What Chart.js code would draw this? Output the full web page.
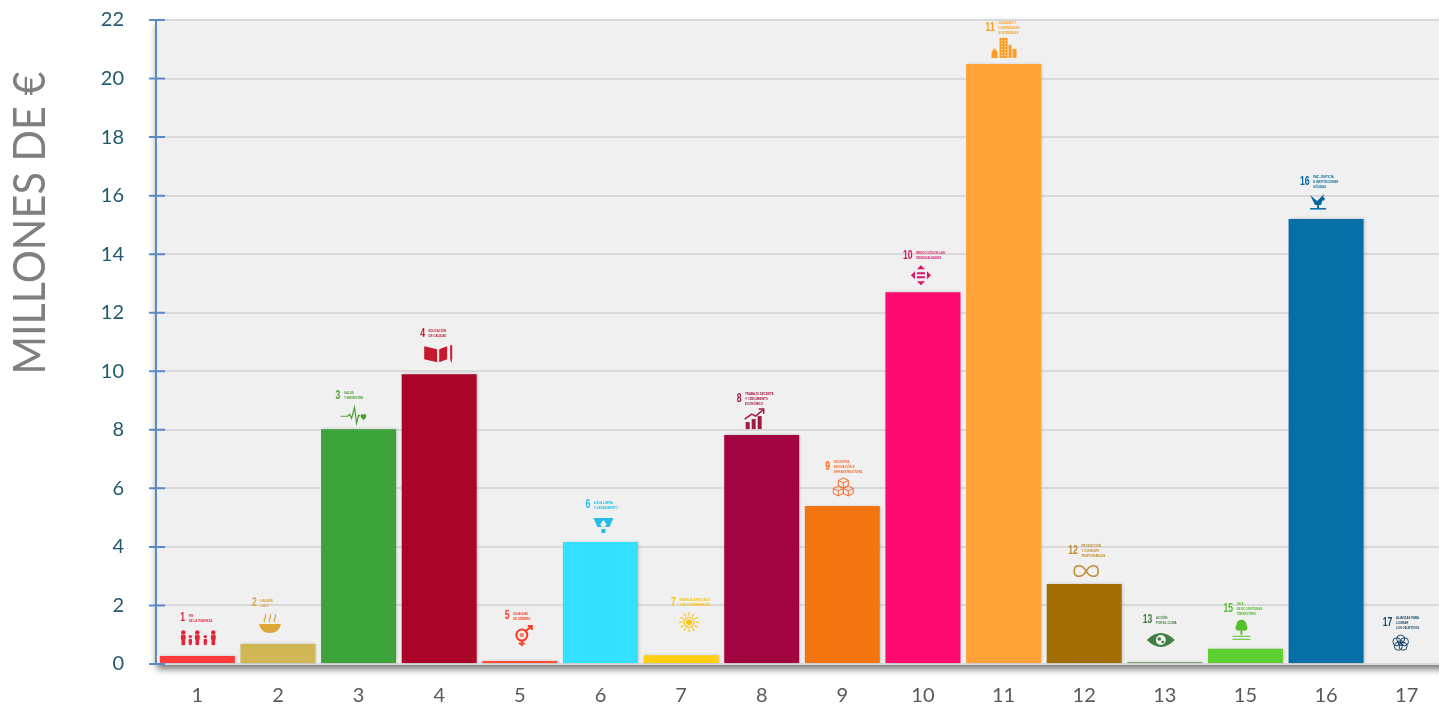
<!DOCTYPE html>
<html>
<head>
<meta charset="utf-8">
<title>Millones de euros por ODS</title>
<script src="https://cdn.jsdelivr.net/npm/chart.js@4"></script>
<style>
  html, body { margin: 0; padding: 0; background: #fff; overflow: hidden; }
  /* the plot runs a little past the right edge of the window, as in the original crop */
  #wrap { width: 1447px; height: 705px; position: relative; }
</style>
</head>
<body>
<div id="wrap"><canvas id="chart"></canvas></div>
<script>
var categories = ['1', '2', '3', '4', '5', '6', '7', '8', '9', '10', '11', '12', '13', '15', '16', '17'];
var values = [0.27, 0.68, 8.02, 9.9, 0.1, 4.17, 0.3, 7.82, 5.4, 12.7, 20.5, 2.73, 0.07, 0.52, 15.2, 0];
var barColors = ['#ff3a3a', '#d1b655', '#3ba33a', '#aa0428', '#ff4d33', '#33e0ff', '#ffcf10', '#a2043f',
                 '#f4740f', '#ff0a6e', '#ffa339', '#a26d04', '#7fa07f', '#5ecf30', '#0570a8', '#14466e'];
var iconColors = ['#e5243b', '#dda63a', '#4c9f38', '#c5192d', '#ff3a21', '#26bde2', '#fcc30b', '#a21942',
                  '#fd6925', '#dd1367', '#fd9d24', '#bf8b2e', '#3f7e44', '#56c02b', '#00689d', '#19486a'];
var captions = [
  ['FIN', 'DE LA POBREZA'], ['HAMBRE', 'CERO'], ['SALUD', 'Y BIENESTAR'], ['EDUCACIÓN', 'DE CALIDAD'],
  ['IGUALDAD', 'DE GÉNERO'], ['AGUA LIMPIA', 'Y SANEAMIENTO'], ['ENERGÍA ASEQUIBLE', 'Y NO CONTAMINANTE'],
  ['TRABAJO DECENTE', 'Y CRECIMIENTO', 'ECONÓMICO'], ['INDUSTRIA,', 'INNOVACIÓN E', 'INFRAESTRUCTURA'],
  ['REDUCCIÓN DE LAS', 'DESIGUALDADES'], ['CIUDADES Y', 'COMUNIDADES', 'SOSTENIBLES'],
  ['PRODUCCIÓN', 'Y CONSUMO', 'RESPONSABLES'], ['ACCIÓN', 'POR EL CLIMA'],
  ['VIDA', 'DE ECOSISTEMAS', 'TERRESTRES'], ['PAZ, JUSTICIA', 'E INSTITUCIONES', 'SÓLIDAS'],
  ['ALIANZAS PARA', 'LOGRAR', 'LOS OBJETIVOS']
];
var iconNumbers = ['1', '2', '3', '4', '5', '6', '7', '8', '9', '10', '11', '12', '13', '15', '16', '17'];
var axisTitle = 'MILLONES DE €';

// where each logo sits relative to the top of its bar (pixels)
var logoShiftX = [1, -8, -5, -1, 3, 3, 8, -7, 1, -2, 0, 2, -4, -4, -8, -6];
var logoLift = [18, 21, 14, 21, 25, 17, 33, 16, 19, 17, 16, 13, 22, 20, 17, 21];

function line(c, pts) {
  c.beginPath();
  pts.forEach(function(p, i) { i ? c.lineTo(p[0], p[1]) : c.moveTo(p[0], p[1]); });
  c.stroke();
}
function dot(c, x, y, r) { c.beginPath(); c.arc(x, y, r, 0, Math.PI * 2); c.fill(); }
function ring(c, x, y, r) { c.beginPath(); c.arc(x, y, r, 0, Math.PI * 2); c.stroke(); }

var logos = [
  function(c) { // people
    [[-15, 1], [-8, .7], [-1, 1], [7, .7], [15, 1]].forEach(function(p) {
      var s = p[1], top = s < 1 ? 1 : -3;
      dot(c, p[0], top - 2.5, 2 * s + .3);
      c.fillRect(p[0] - 2.4 * s, top, 4.8 * s, 4.5);
      c.fillRect(p[0] - 1.8 * s, top + 4, 3.6 * s, 7 - top - 4);
    });
  },
  function(c) { // bowl
    c.beginPath(); c.moveTo(-11, 1); c.lineTo(11, 1); c.quadraticCurveTo(9, 10, 0, 10); c.quadraticCurveTo(-9, 10, -11, 1); c.fill();
    c.lineWidth = 1.1;
    [-5, 0, 5].forEach(function(x) {
      c.beginPath(); c.moveTo(x, -1); c.bezierCurveTo(x - 3, -4, x + 3, -6, x, -9); c.stroke();
    });
  },
  function(c) { // pulse and heart
    c.lineWidth = 1.2;
    line(c, [[-13, 1], [-6, 1], [-4, -1], [-2, 3], [1, -8], [3, 8], [5, 0], [7, 1]]);
    c.beginPath(); c.moveTo(10, 5); c.bezierCurveTo(5, 1, 8, -3, 10, -.5); c.bezierCurveTo(12, -3, 15, 1, 10, 5); c.fill();
  },
  function(c) { // book
    c.beginPath(); c.moveTo(-14, -7); c.lineTo(-1, -4); c.lineTo(-1, 9); c.lineTo(-14, 6); c.closePath(); c.fill();
    c.beginPath(); c.moveTo(9, -7); c.lineTo(1, -4); c.lineTo(1, 9); c.lineTo(9, 6); c.closePath(); c.fill();
    c.fillRect(12, -8, 2, 14);
    c.beginPath(); c.moveTo(12, 6); c.lineTo(14, 6); c.lineTo(13, 10); c.fill();
  },
  function(c) { // gender symbol
    c.lineWidth = 2;
    ring(c, -1, -1, 5.5);
    line(c, [[-1, 4], [-1, 10]]);
    line(c, [[-4, 7.5], [2, 7.5]]);
    line(c, [[3, -5], [9, -10]]);
    line(c, [[5, -10], [9, -10], [9, -6]]);
    c.lineWidth = 1.2;
    line(c, [[-3, -2], [1, -2]]);
    line(c, [[-3, 0], [1, 0]]);
  },
  function(c) { // glass and drop
    c.beginPath(); c.moveTo(-10, -7); c.lineTo(10, -7); c.lineTo(6, 2); c.lineTo(-6, 2); c.closePath(); c.fill();
    c.beginPath(); c.moveTo(-2, 4); c.lineTo(2, 4); c.lineTo(2, 8); c.lineTo(-2, 8); c.fill();
    c.fillStyle = '#f0f0f0';
    c.beginPath(); c.moveTo(0, -5); c.lineTo(3, -1); c.arc(0, -1, 3, 0, Math.PI); c.closePath(); c.fill();
  },
  function(c) { // sun
    dot(c, 0, 0, 3);
    c.lineWidth = 1.1;
    ring(c, 0, 0, 5);
    for (var i = 0; i < 12; i++) {
      var a = i * Math.PI / 6;
      line(c, [[Math.cos(a) * 6.5, Math.sin(a) * 6.5], [Math.cos(a) * 10, Math.sin(a) * 10]]);
    }
  },
  function(c) { // rising bars
    c.fillRect(-9, 3, 4, 7); c.fillRect(-3, 0, 4, 10); c.fillRect(3, -3, 4, 13);
    c.lineWidth = 1.5;
    line(c, [[-10, 0], [-3, -5], [1, -3], [8, -9]]);
    line(c, [[4, -10], [9, -10], [9, -5]]);
  },
  function(c) { // cubes
    c.lineWidth = 1;
    [[0, -4], [-5, 4], [5, 4]].forEach(function(p) {
      var x = p[0], y = p[1];
      c.beginPath();
      c.moveTo(x, y - 5); c.lineTo(x + 5, y - 2.5); c.lineTo(x + 5, y + 2.5); c.lineTo(x, y + 5);
      c.lineTo(x - 5, y + 2.5); c.lineTo(x - 5, y - 2.5); c.closePath();
      c.moveTo(x - 5, y - 2.5); c.lineTo(x, y); c.lineTo(x + 5, y - 2.5); c.moveTo(x, y); c.lineTo(x, y + 5);
      c.stroke();
    });
  },
  function(c) { // equal sign with four arrows
    c.fillRect(-4, -3, 8, 2); c.fillRect(-4, 1, 8, 2);
    [[0, -10, -4, -6, 4, -6], [0, 10, -4, 6, 4, 6], [-10, 0, -6, -4, -6, 4], [10, 0, 6, -4, 6, 4]].forEach(function(t) {
      c.beginPath(); c.moveTo(t[0], t[1]); c.lineTo(t[2], t[3]); c.lineTo(t[4], t[5]); c.fill();
    });
  },
  function(c) { // city
    c.fillRect(-4, -10, 8, 20); c.fillRect(5, -3, 3, 13); c.fillRect(9, 1, 4, 9);
    c.beginPath(); c.moveTo(-12, 10); c.lineTo(-12, 4); c.lineTo(-9, 0); c.lineTo(-6, 4); c.lineTo(-6, 10); c.fill();
    c.fillStyle = '#f0f0f0';
    for (var y = -8; y < 8; y += 3) { c.fillRect(-2.5, y, 1.5, 1.2); c.fillRect(1, y, 1.5, 1.2); }
  },
  function(c) { // infinity
    c.lineWidth = 1.5;
    c.beginPath();
    c.moveTo(0, 0);
    c.bezierCurveTo(4, -7, 12, -7, 12, 0);
    c.bezierCurveTo(12, 7, 4, 7, 0, 0);
    c.bezierCurveTo(-4, -7, -12, -7, -12, 0);
    c.bezierCurveTo(-12, 7, -4, 7, 0, 0);
    c.stroke();
  },
  function(c) { // eye with globe
    c.beginPath(); c.moveTo(-14, 0); c.quadraticCurveTo(0, -14, 14, 0); c.quadraticCurveTo(0, 14, -14, 0); c.fill();
    c.fillStyle = '#f0f0f0';
    dot(c, 0, 0, 5);
    c.fillStyle = iconColors[12];
    dot(c, -1.5, -1, 1.8); dot(c, 2, 2, 1.3);
  },
  function(c) { // tree on ground
    dot(c, 0, -4, 5); dot(c, -3, -1, 3); dot(c, 3, -1, 3);
    c.fillRect(-1, 0, 2, 6);
    c.fillRect(-9, 7, 18, 1); c.fillRect(-9, 10, 18, 1);
  },
  function(c) { // dove on gavel
    c.beginPath(); c.moveTo(-8, -7); c.lineTo(-1, -1); c.lineTo(6, -8); c.lineTo(3, 3); c.lineTo(-3, 3); c.closePath(); c.fill();
    dot(c, 5, -3, 1.8);
    c.fillRect(-8, 6, 16, 1.5);
    c.fillRect(-1, 3, 2, 3);
  },
  function(c) { // rings
    c.lineWidth = 1;
    ring(c, 0, 0, 2.5);
    for (var i = 0; i < 5; i++) {
      var a = -Math.PI / 2 + i * 2 * Math.PI / 5;
      ring(c, Math.cos(a) * 4, Math.sin(a) * 4, 4);
    }
  }
];

var plotBack = {
  id: 'plotBack',
  beforeDraw: function(chart) {
    var a = chart.chartArea, c = chart.ctx;
    c.save();
    c.shadowColor = 'rgba(0,0,0,0.55)';
    c.shadowBlur = 7;
    c.shadowOffsetY = 4;
    c.fillStyle = '#f0f0f0';
    c.fillRect(a.left, a.top, a.right - a.left, a.bottom - a.top + 1);
    c.restore();
  }
};

var barShadow = {
  id: 'barShadow',
  beforeDatasetDraw: function(chart) {
    var c = chart.ctx;
    c.save();
    c.shadowColor = 'rgba(0,0,0,0.22)';
    c.shadowBlur = 3;
    c.shadowOffsetX = 1;
  },
  afterDatasetDraw: function(chart) { chart.ctx.restore(); }
};

var sideAxis = {
  id: 'sideAxis',
  afterDraw: function(chart) {
    var c = chart.ctx, a = chart.chartArea, y = chart.scales.y;
    c.save();
    c.strokeStyle = '#5b8bc4';
    c.lineWidth = 2;
    c.beginPath();
    c.moveTo(a.left - 1, y.getPixelForValue(22));
    c.lineTo(a.left - 1, y.getPixelForValue(0) + 1);
    y.ticks.forEach(function(t) {
      var py = y.getPixelForValue(t.value);
      c.moveTo(a.left - 8, py);
      c.lineTo(a.left + 8, py);
    });
    c.stroke();
    // axis title
    c.translate(31, 223);
    c.rotate(-Math.PI / 2);
    c.fillStyle = '#7f7f7f';
    c.font = '400 44px Lato';
    c.textAlign = 'center';
    c.textBaseline = 'middle';
    var tw = c.measureText(axisTitle).width;
    c.scale(303 / tw, 1);
    c.fillText(axisTitle, 0, 0);
    c.restore();
  }
};

var sdgLogos = {
  id: 'sdgLogos',
  afterDatasetsDraw: function(chart) {
    var c = chart.ctx, meta = chart.getDatasetMeta(0);
    meta.data.forEach(function(bar, i) {
      var cx = bar.x + logoShiftX[i], cy = bar.y - logoLift[i];
      c.save();
      c.translate(cx, cy);
      c.fillStyle = iconColors[i];
      c.strokeStyle = iconColors[i];
      c.save();
      logos[i](c);
      c.restore();
      // goal number and tiny caption over the pictogram, squeezed like the original logo
      c.translate(-18, -20);
      c.scale(0.72, 1);
      c.textBaseline = 'middle';
      c.textAlign = 'left';
      c.font = 'bold 12px "Liberation Sans"';
      c.fillText(iconNumbers[i], 0, 0);
      var w = c.measureText(iconNumbers[i]).width;
      c.font = 'bold 4px "Liberation Sans"';
      var rows = captions[i];
      rows.forEach(function(r, k) {
        c.fillText(r, w + 5, (k - (rows.length - 1) / 2) * 5);
      });
      c.restore();
    });
  }
};

new Chart(document.getElementById('chart'), {
  type: 'bar',
  data: {
    labels: categories,
    datasets: [{
      data: values,
      backgroundColor: barColors,
      barPercentage: 0.93,
      categoryPercentage: 1
    }]
  },
  plugins: [plotBack, barShadow, sdgLogos, sideAxis],
  options: {
    responsive: true,
    maintainAspectRatio: false,
    animation: false,
    layout: { padding: { top: 20, right: 0, bottom: 0, left: 0 } },
    plugins: { legend: { display: false }, tooltip: { enabled: false } },
    scales: {
      x: {
        grid: { display: false, drawBorder: false },
        border: { display: false },
        ticks: { color: '#595959', font: { family: 'Lato', size: 20 }, padding: 12, maxRotation: 0 },
        afterFit: function(s) { s.height = 41; s.paddingLeft = 0; s.paddingRight = 0; }
      },
      y: {
        min: 0,
        max: 22,
        grid: { color: '#d9d9d9', lineWidth: 2, drawTicks: false },
        border: { display: false },
        ticks: { stepSize: 2, color: '#215a6e', font: { family: 'Lato', size: 20 }, padding: 33 },
        // the tick label padding would otherwise push the plot in from top and bottom
        afterFit: function(s) { s.width = 157; s.paddingTop = 0; s.paddingBottom = 0; }
      }
    }
  }
});
</script>
</body>
</html>
